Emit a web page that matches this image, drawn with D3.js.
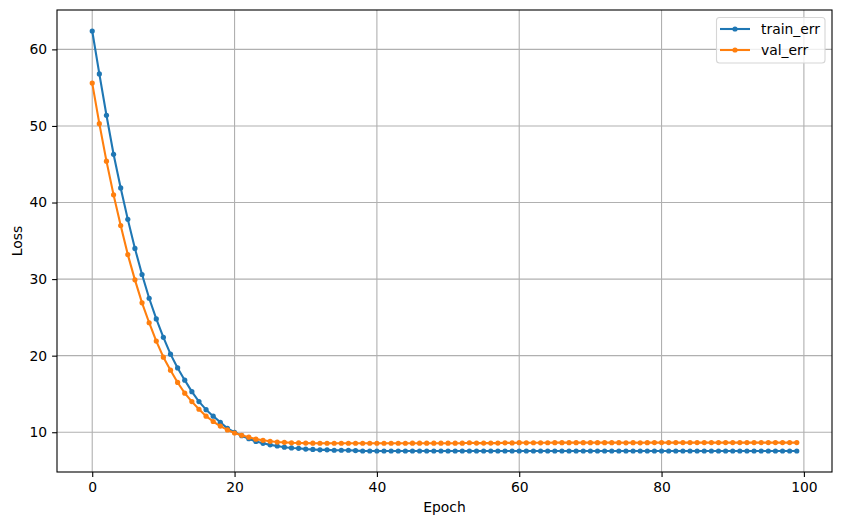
<!DOCTYPE html>
<html>
<head>
<meta charset="utf-8">
<script src="https://cdn.jsdelivr.net/npm/d3@7"></script>
<style>
  body { margin: 0; background: #fff; }
  text { font-family: "DejaVu Sans", sans-serif; }
</style>
</head>
<body>
<svg id="chart" width="841" height="525"></svg>
<script>
// loss per epoch
let trainErr = [62.4, 56.8, 51.4, 46.3, 41.9, 37.8, 34.0, 30.6, 27.5, 24.8,
  22.4, 20.2, 18.4, 16.8, 15.3, 14.0, 12.95, 12.1, 11.3, 10.5,
  10.0, 9.55, 9.15, 8.8, 8.55, 8.35, 8.2, 8.05, 7.95, 7.9,
  7.8, 7.75, 7.7, 7.7, 7.65, 7.65, 7.65, 7.6, 7.55, 7.55,
  7.55, 7.55, 7.55, 7.55, 7.55, 7.55, 7.55, 7.55, 7.55, 7.55,
  7.55, 7.55, 7.55, 7.55, 7.55, 7.55, 7.55, 7.55, 7.55, 7.55,
  7.55, 7.55, 7.55, 7.55, 7.55, 7.55, 7.55, 7.55, 7.55, 7.55,
  7.55, 7.55, 7.55, 7.55, 7.55, 7.55, 7.55, 7.55, 7.55, 7.55,
  7.55, 7.55, 7.55, 7.55, 7.55, 7.55, 7.55, 7.55, 7.55, 7.55,
  7.55, 7.55, 7.55, 7.55, 7.55, 7.55, 7.55, 7.55, 7.55, 7.55];

let valErr = [55.6, 50.3, 45.4, 41.0, 37.0, 33.2, 29.9, 26.9, 24.3, 21.9,
  19.8, 18.1, 16.5, 15.1, 14.0, 13.0, 12.1, 11.4, 10.8, 10.3,
  9.9, 9.6, 9.35, 9.1, 8.95, 8.82, 8.72, 8.68, 8.62, 8.6,
  8.58, 8.57, 8.56, 8.56, 8.56, 8.56, 8.56, 8.56, 8.56, 8.56,
  8.56, 8.56, 8.56, 8.56, 8.56, 8.57, 8.57, 8.57, 8.57, 8.57,
  8.57, 8.57, 8.57, 8.63, 8.58, 8.58, 8.58, 8.58, 8.62, 8.6,
  8.64, 8.62, 8.63, 8.62, 8.63, 8.64, 8.64, 8.64, 8.64, 8.64,
  8.64, 8.64, 8.64, 8.64, 8.64, 8.62, 8.64, 8.62, 8.64, 8.65,
  8.65, 8.65, 8.65, 8.65, 8.65, 8.65, 8.65, 8.65, 8.65, 8.65,
  8.65, 8.65, 8.65, 8.65, 8.65, 8.65, 8.65, 8.65, 8.65, 8.65];

let xTicks = [0, 20, 40, 60, 80, 100];
let yTicks = [10, 20, 30, 40, 50, 60];
let seriesNames = ["train_err", "val_err"];
let seriesColors = ["#1f77b4", "#ff7f0e"];

let plotLeft = 57, plotRight = 832, plotTop = 10, plotBottom = 472;

let svg = d3.select("#chart");

// matplotlib style 5% margins
let n = trainErr.length;
let xPad = (n - 1) * 0.05;
let x = d3.scaleLinear().domain([-xPad, n - 1 + xPad]).range([plotLeft, plotRight]);

let allVals = trainErr.concat(valErr);
let yMin = d3.min(allVals), yMax = d3.max(allVals);
let yPad = (yMax - yMin) * 0.05;
let y = d3.scaleLinear().domain([yMin - yPad, yMax + yPad]).range([plotBottom, plotTop]);

// grid
let grid = svg.append("g");
grid.selectAll(".vg").data(xTicks).enter().append("line")
  .attr("x1", d => x(d)).attr("x2", d => x(d))
  .attr("y1", plotTop).attr("y2", plotBottom)
  .attr("stroke", "#b0b0b0").attr("stroke-width", 1.1);
grid.selectAll(".hg").data(yTicks).enter().append("line")
  .attr("x1", plotLeft).attr("x2", plotRight)
  .attr("y1", d => y(d)).attr("y2", d => y(d))
  .attr("stroke", "#b0b0b0").attr("stroke-width", 1.1);

// lines + markers
let line = d3.line().x((d, i) => x(i)).y(d => y(d));
[trainErr, valErr].forEach(function (data, k) {
  let g = svg.append("g");
  g.append("path").datum(data)
    .attr("d", line)
    .attr("fill", "none")
    .attr("stroke", seriesColors[k])
    .attr("stroke-width", 2.1)
    .attr("stroke-linejoin", "round");
  g.selectAll("circle").data(data).enter().append("circle")
    .attr("cx", (d, i) => x(i))
    .attr("cy", d => y(d))
    .attr("r", 2.6)
    .attr("fill", seriesColors[k]);
});

// axes
let xAxis = d3.axisBottom(x).tickValues(xTicks).tickSize(4.9).tickPadding(4.9);
let yAxis = d3.axisLeft(y).tickValues(yTicks).tickSize(4.9).tickPadding(4.9);

let gx = svg.append("g").attr("transform", "translate(0," + plotBottom + ")").call(xAxis);
let gy = svg.append("g").attr("transform", "translate(" + plotLeft + ",0)").call(yAxis);
[gx, gy].forEach(function (g) {
  g.select(".domain").remove();
  g.selectAll(".tick line").attr("stroke", "#000").attr("stroke-width", 1.1);
  g.selectAll(".tick text").attr("fill", "#000")
    .style("font-size", "13.9px").style("font-family", "DejaVu Sans");
});

// frame
svg.append("rect")
  .attr("x", plotLeft).attr("y", plotTop)
  .attr("width", plotRight - plotLeft).attr("height", plotBottom - plotTop)
  .attr("fill", "none").attr("stroke", "#000").attr("stroke-width", 1.1);

svg.append("text")
  .attr("x", (plotLeft + plotRight) / 2).attr("y", 512)
  .attr("text-anchor", "middle")
  .style("font-size", "13.9px")
  .text("Epoch");

svg.append("text")
  .attr("transform", "translate(22," + ((plotTop + plotBottom) / 2) + ") rotate(-90)")
  .attr("text-anchor", "middle")
  .style("font-size", "13.9px")
  .text("Loss");

// legend
let legend = svg.append("g");
legend.append("rect")
  .attr("x", 716.5).attr("y", 17.5)
  .attr("width", 108.5).attr("height", 45.5)
  .attr("rx", 3)
  .attr("fill", "#fff").attr("fill-opacity", 0.8)
  .attr("stroke", "#d6d6d6").attr("stroke-width", 1.1);
seriesNames.forEach(function (name, k) {
  let ly = 29 + k * 21;
  legend.append("line")
    .attr("x1", 720).attr("x2", 750)
    .attr("y1", ly).attr("y2", ly)
    .attr("stroke", seriesColors[k]).attr("stroke-width", 2.1);
  legend.append("circle")
    .attr("cx", 735).attr("cy", ly).attr("r", 2.6)
    .attr("fill", seriesColors[k]);
  legend.append("text")
    .attr("x", 761).attr("y", ly + 5)
    .style("font-size", "13.9px")
    .text(name);
});
</script>
</body>
</html>
